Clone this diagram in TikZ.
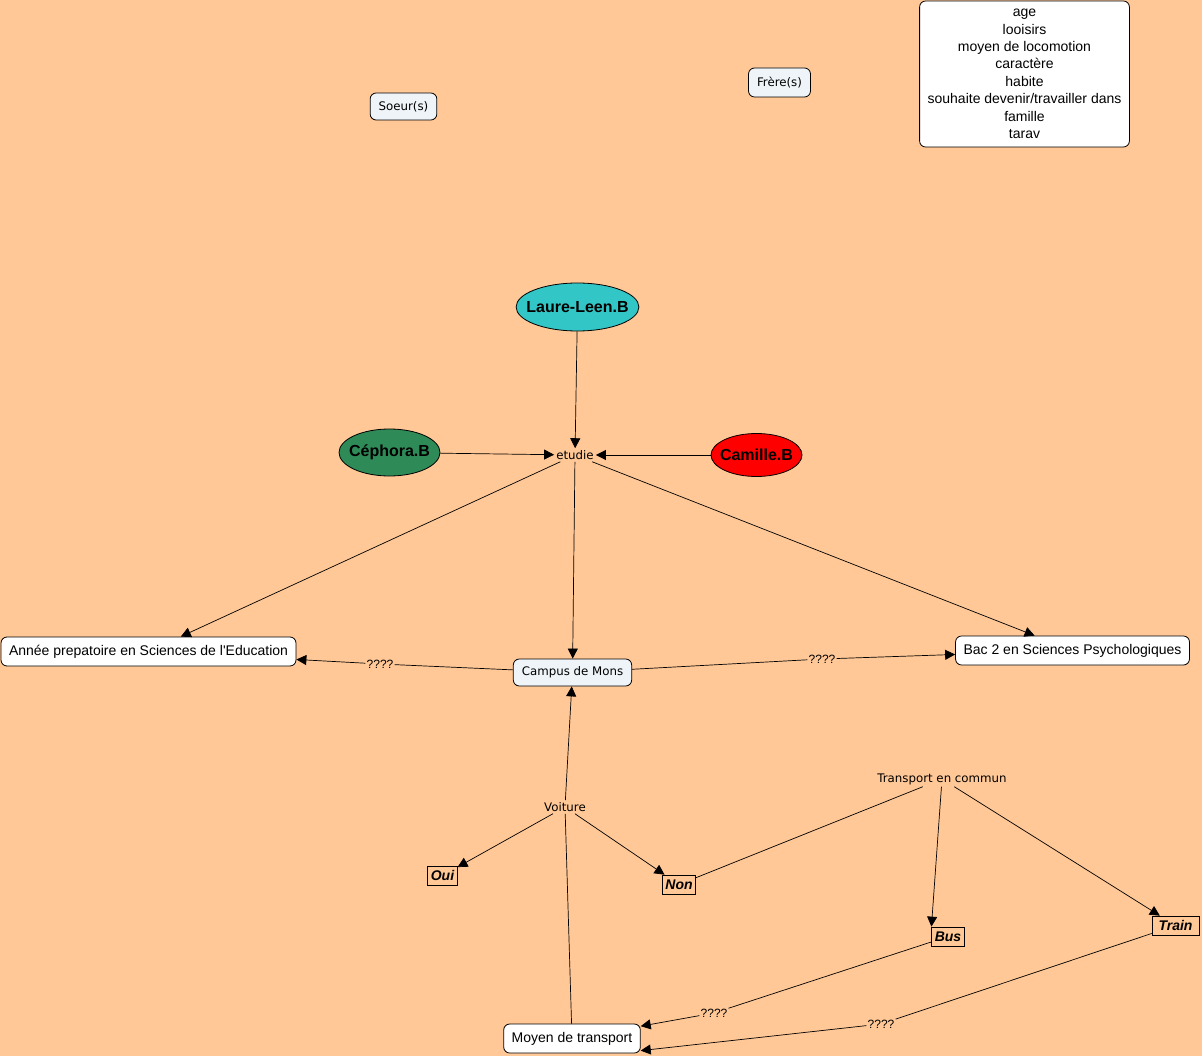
\documentclass[tikz,border=0pt]{standalone}
\usepackage{fontspec}
\newfontfamily\afont{Liberation Sans}
\newfontfamily\vfont{DejaVu Sans}
\usetikzlibrary{arrows.meta,shapes.geometric}
\definecolor{bgc}{RGB}{255,200,150}
\definecolor{lightc}{RGB}{238,244,248}
\definecolor{tealc}{RGB}{51,198,198}
\definecolor{greenc}{RGB}{46,139,87}
\definecolor{redc}{RGB}{255,0,0}
\begin{document}
\begin{tikzpicture}[x=1pt,y=-1pt,
  every node/.style={font=\afont\fontsize{14}{16}\selectfont},
  concept/.style={draw, rounded corners=6pt, fill=white, inner xsep=8pt, inner ysep=0pt, minimum height=29pt, line width=0.8pt},
  lconcept/.style={concept, fill=lightc, font=\vfont\fontsize{11.8}{14}\selectfont, minimum height=27pt, inner xsep=8.5pt},
  person/.style={ellipse, draw, font=\afont\bfseries\fontsize{16}{18}\selectfont, inner ysep=0pt, line width=0.8pt},
  phrase/.style={font=\vfont\fontsize{11.8}{14}\selectfont, inner sep=2pt},
  qlabel/.style={font=\afont\fontsize{12}{14}\selectfont, inner sep=1pt},
  choice/.style={draw, fill=bgc, font=\afont\bfseries\itshape\fontsize{14}{16}\selectfont, inner xsep=3pt, inner ysep=0pt, minimum height=19pt, line width=0.7pt},
  link/.style={line width=0.7pt},
  arr/.style={link, -{Triangle[length=10pt,width=10pt]}}
]
\fill[bgc] (0,0) rectangle (1202,1056);
\useasboundingbox (0,0) rectangle (1202,1056);

% top nodes
\node[concept, align=center, font=\afont\fontsize{14}{17.4}\selectfont, minimum width=209pt, minimum height=146pt] (list) at (1024.5,74)
  {age\\looisirs\\moyen de locomotion\\caractère\\habite\\souhaite devenir/travailler dans\\famille\\tarav};
\node[lconcept] (soeur) at (403.5,106.5) {Soeur(s)};
\node[lconcept, minimum height=29pt] (frere) at (779.5,82.5) {Frère(s)};

% persons
\node[person, fill=tealc, inner xsep=-7.7pt, minimum width=121pt, minimum height=48pt] (laure) at (577.5,307) {Laure-Leen.B};
\node[person, fill=greenc, inner xsep=-4.8pt, minimum width=101pt, minimum height=47pt] (cephora) at (389.5,452.5) {Céphora.B};
\node[person, fill=redc, inner xsep=-4.3pt, minimum width=91pt, minimum height=43pt] (camille) at (756.5,455) {Camille.B};
\node[phrase] (etudie) at (575,455) {etudie};

% studies
\node[concept] (annee) at (148.5,651.5) {Année prepatoire en Sciences de l'Education};
\node[lconcept] (campus) at (572.5,672.5) {Campus de Mons};
\node[concept] (bac) at (1072.5,650.5) {Bac 2 en Sciences Psychologiques};
\node[qlabel] (q1) at (380,664) {????};
\node[qlabel] (q2) at (822,659) {????};

% transport
\node[phrase] (voiture) at (565,807) {Voiture};
\node[phrase] (commun) at (942,779) {Transport en commun};
\node[choice] (oui) at (442.5,875.5) {Oui};
\node[choice] (non) at (679,884.5) {Non};
\node[choice] (bus) at (948,936.5) {Bus};
\node[choice, minimum width=47pt] (train) at (1175.5,925.5) {Train};
\node[concept] (moyen) at (572,1038.5) {Moyen de transport};
\node[qlabel] (q3) at (714,1013) {????};
\node[qlabel] (q4) at (881,1024) {????};

% connectors
\draw[arr] (laure) -- (etudie);
\draw[arr] (cephora) -- (etudie);
\draw[arr] (camille) -- (etudie);
\draw[arr] (etudie) -- (annee);
\draw[arr] (etudie) -- (campus);
\draw[arr] (etudie) -- (bac);
\draw[link] (campus) -- (q1);
\draw[arr] (q1) -- (annee);
\draw[link] (campus) -- (q2);
\draw[arr] (q2) -- (bac);
\draw[link] (moyen) -- (voiture);
\draw[arr] (voiture) -- (campus);
\draw[arr] (voiture) -- (oui);
\draw[arr] (voiture) -- (non);
\draw[link] (non) -- (commun);
\draw[arr] (commun) -- (bus.north west);
\draw[arr] (commun) -- (train);
\draw[link] (bus) -- (q3);
\draw[arr] (q3) -- (moyen);
\draw[link] (train) -- (q4);
\draw[arr] (q4) -- (moyen.350);
\end{tikzpicture}
\end{document}
